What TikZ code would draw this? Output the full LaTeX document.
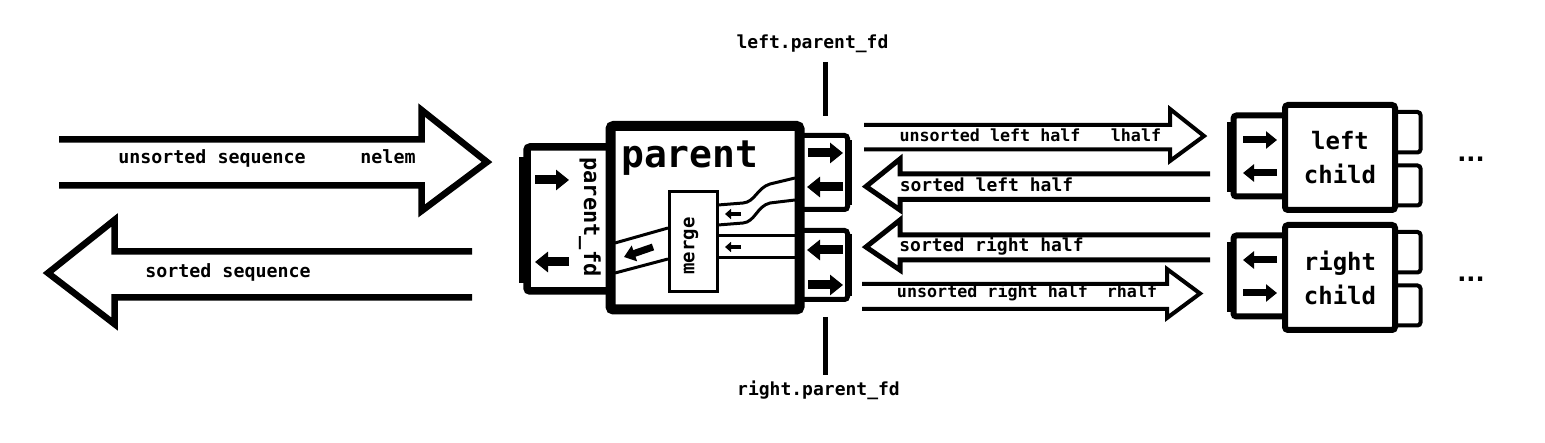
\documentclass[tikz,border=0pt]{standalone}
\usepackage{fontspec}
\setmonofont{DejaVu Sans Mono}
\newfontfamily\dotfont{DejaVu Sans}
\usetikzlibrary{positioning,arrows.meta}

\begin{document}
\begin{tikzpicture}[x=1pt,y=-1pt,
    bigarrow/.style={line width=6.5pt},
    halfarrow/.style={line width=4pt},
    box/.style={draw, fill=white, rounded corners=3pt, inner sep=0pt},
    blk/.style={line width=9pt, -{Triangle[length=13pt,width=20pt]}},
    childblk/.style={line width=7pt, -{Triangle[length=11pt,width=17pt]}},
    tinyblk/.style={line width=4pt, -{Triangle[length=6pt,width=10pt]}},
    pipe/.style={line width=3pt},
    txt/.style={font=\ttfamily\bfseries\fontsize{#1}{#1}\selectfont, inner sep=0pt},
    childtxt/.style={font=\ttfamily\bfseries\fontsize{24}{34}\selectfont, align=center},
    more/.style={font=\dotfont\bfseries\fontsize{24}{24}\selectfont, inner sep=0pt}
]
    \useasboundingbox (0,0) rectangle (1545,443);

    % Input and output of the whole sort
    \draw[bigarrow] (59,139.5) -- (421.5,139.5) -- (421.5,110) -- (487,162)
        -- (421.5,211) -- (421.5,185.5) -- (59,185.5);
    \draw[bigarrow] (472,251.5) -- (114.5,251.5) -- (114.5,220) -- (48,273)
        -- (114.5,324) -- (114.5,297.5) -- (472,297.5);
    \node[txt=18.3, anchor=base] (unsorted) at (212,164) {unsorted sequence};
    \node[txt=18.3, anchor=base] (nelem) at (388,164) {nelem};
    \node[txt=18.3, anchor=base] (sorted) at (228,278) {sorted sequence};

    % Halves passed to and from the children
    \draw[halfarrow] (864,125) -- (1170,125) -- (1170,109) -- (1204,136)
        -- (1170,161) -- (1170,149.5) -- (864,149.5);
    \draw[halfarrow, line width=5pt] (1210,174) -- (900,174) -- (900,159) -- (866,186.5)
        -- (900,210) -- (900,199.5) -- (1210,199.5);
    \draw[halfarrow, line width=5pt] (1210,235) -- (900,235) -- (900,220) -- (866,247)
        -- (900,270) -- (900,260) -- (1210,260);
    \draw[halfarrow] (862,284) -- (1167,284) -- (1167,269) -- (1200,293.5)
        -- (1167,318) -- (1167,309) -- (862,309);
    \node[txt=16.7, anchor=base] (ulh) at (990,142) {unsorted left half};
    \node[txt=16.7, anchor=base] (lhalf) at (1136,142) {lhalf};
    \node[txt=18, anchor=base] (slh) at (986.5,192) {sorted left half};
    \node[txt=18, anchor=base] (srh) at (991.5,251.5) {sorted right half};
    \node[txt=16.7, anchor=base] (urh) at (992.5,298) {unsorted right half};
    \node[txt=16.7, anchor=base] (rhalf) at (1132,298) {rhalf};

    % Descriptors of the parent
    \node[box, line width=7.5pt, minimum width=123, minimum height=144] (pfd) at (588.5,219) {};
    \draw[line width=6pt] (522,157) -- (522,283);
    \node[box, line width=5pt, minimum width=68, minimum height=74] (lfd) at (813.5,172.5) {};
    \draw[line width=3.5pt] (850.5,140) -- (850.5,205);
    \node[box, line width=5pt, minimum width=68, minimum height=69] (rfd) at (813.5,265) {};
    \draw[line width=3.5pt] (850.5,234) -- (850.5,296);

    % Parent process
    \node[box, line width=10pt, minimum width=189, minimum height=183.5] (parent) at (705,217.75) {};
    \node[txt=38, anchor=base west] (ptitle) at (621,168) {parent};

    % Pipes round merge
    \draw[pipe] (718,205) -- (743,203) .. controls (755,202) and (757,188) .. (770,184) -- (795,178);
    \draw[pipe] (718,225) -- (743,223) .. controls (755,222) and (757,206) .. (770,203) -- (795,200);
    \draw[pipe] (718,236) -- (795,236);
    \draw[pipe] (718,258) -- (795,258);
    \draw[pipe] (668,228) -- (615,243);
    \draw[pipe] (668,259) -- (615,273);
    \node[box, line width=3pt, rounded corners=0pt, minimum width=48, minimum height=100] (merge) at (693,242) {};
    \node[txt=19, rotate=90] (mlabel) at (691,246) {merge};
    \draw[tinyblk] (741,214) -- (725,214);
    \draw[tinyblk] (741,247) -- (725,247);
    \draw[line width=7pt, -{Triangle[length=11pt,width=16pt]}] (653,247) -- (624,257);

    % Parent descriptor label and arrows
    \node[txt=22, rotate=-90] (pfdlabel) at (590,217) {parent\_fd};
    \draw[blk] (535,180) -- (569,180);
    \draw[blk] (569,262) -- (535,262);
    \draw[blk] (808,153) -- (843,153);
    \draw[blk] (843,187) -- (807,187);
    \draw[blk] (843,250) -- (807,250);
    \draw[blk] (808,285) -- (843,285);

    % Markers for the children's parent_fd
    \coordinate (ltop) at (825.5,62);
    \coordinate (lbot) at (825.5,116);
    \coordinate (rtop) at (825.5,317);
    \coordinate (rbot) at (825.5,375);
    \draw[line width=5pt] (ltop) -- (lbot);
    \draw[line width=5pt] (rtop) -- (rbot);
    \node[txt=18, anchor=base] (lpfd) at (812.5,49) {left.parent\_fd};
    \node[txt=18, anchor=base] (rpfd) at (818.5,396) {right.parent\_fd};

    % Left child
    \node[box, line width=6pt, minimum width=67, minimum height=81] (lcfd) at (1267,156) {};
    \draw[line width=5pt] (1229,122) -- (1229,192);
    \node[box, line width=4pt, minimum width=40, minimum height=40.5] (lco1) at (1400.5,132.25) {};
    \node[box, line width=4pt, minimum width=40, minimum height=40] (lco2) at (1400.5,185.5) {};
    \node[box, line width=6pt, minimum width=110, minimum height=105, childtxt] (lchild) at (1340,157.5) {left\\child};
    \draw[childblk] (1243,140) -- (1277,140);
    \draw[childblk] (1277,173) -- (1243,173);
    \node[more, anchor=base] (ldots) at (1471,162) {...};

    % Right child
    \node[box, line width=6pt, minimum width=67, minimum height=81] (rcfd) at (1267,276) {};
    \draw[line width=5pt] (1229,242) -- (1229,312);
    \node[box, line width=4pt, minimum width=40, minimum height=40.5] (rco1) at (1400.5,252.25) {};
    \node[box, line width=4pt, minimum width=40, minimum height=40] (rco2) at (1400.5,305.5) {};
    \node[box, line width=6pt, minimum width=110, minimum height=105, childtxt] (rchild) at (1340,277.5) {right\\child};
    \draw[childblk] (1277,260) -- (1243,260);
    \draw[childblk] (1243,293) -- (1277,293);
    \node[more, anchor=base] (rdots) at (1471,282) {...};
\end{tikzpicture}
\end{document}
